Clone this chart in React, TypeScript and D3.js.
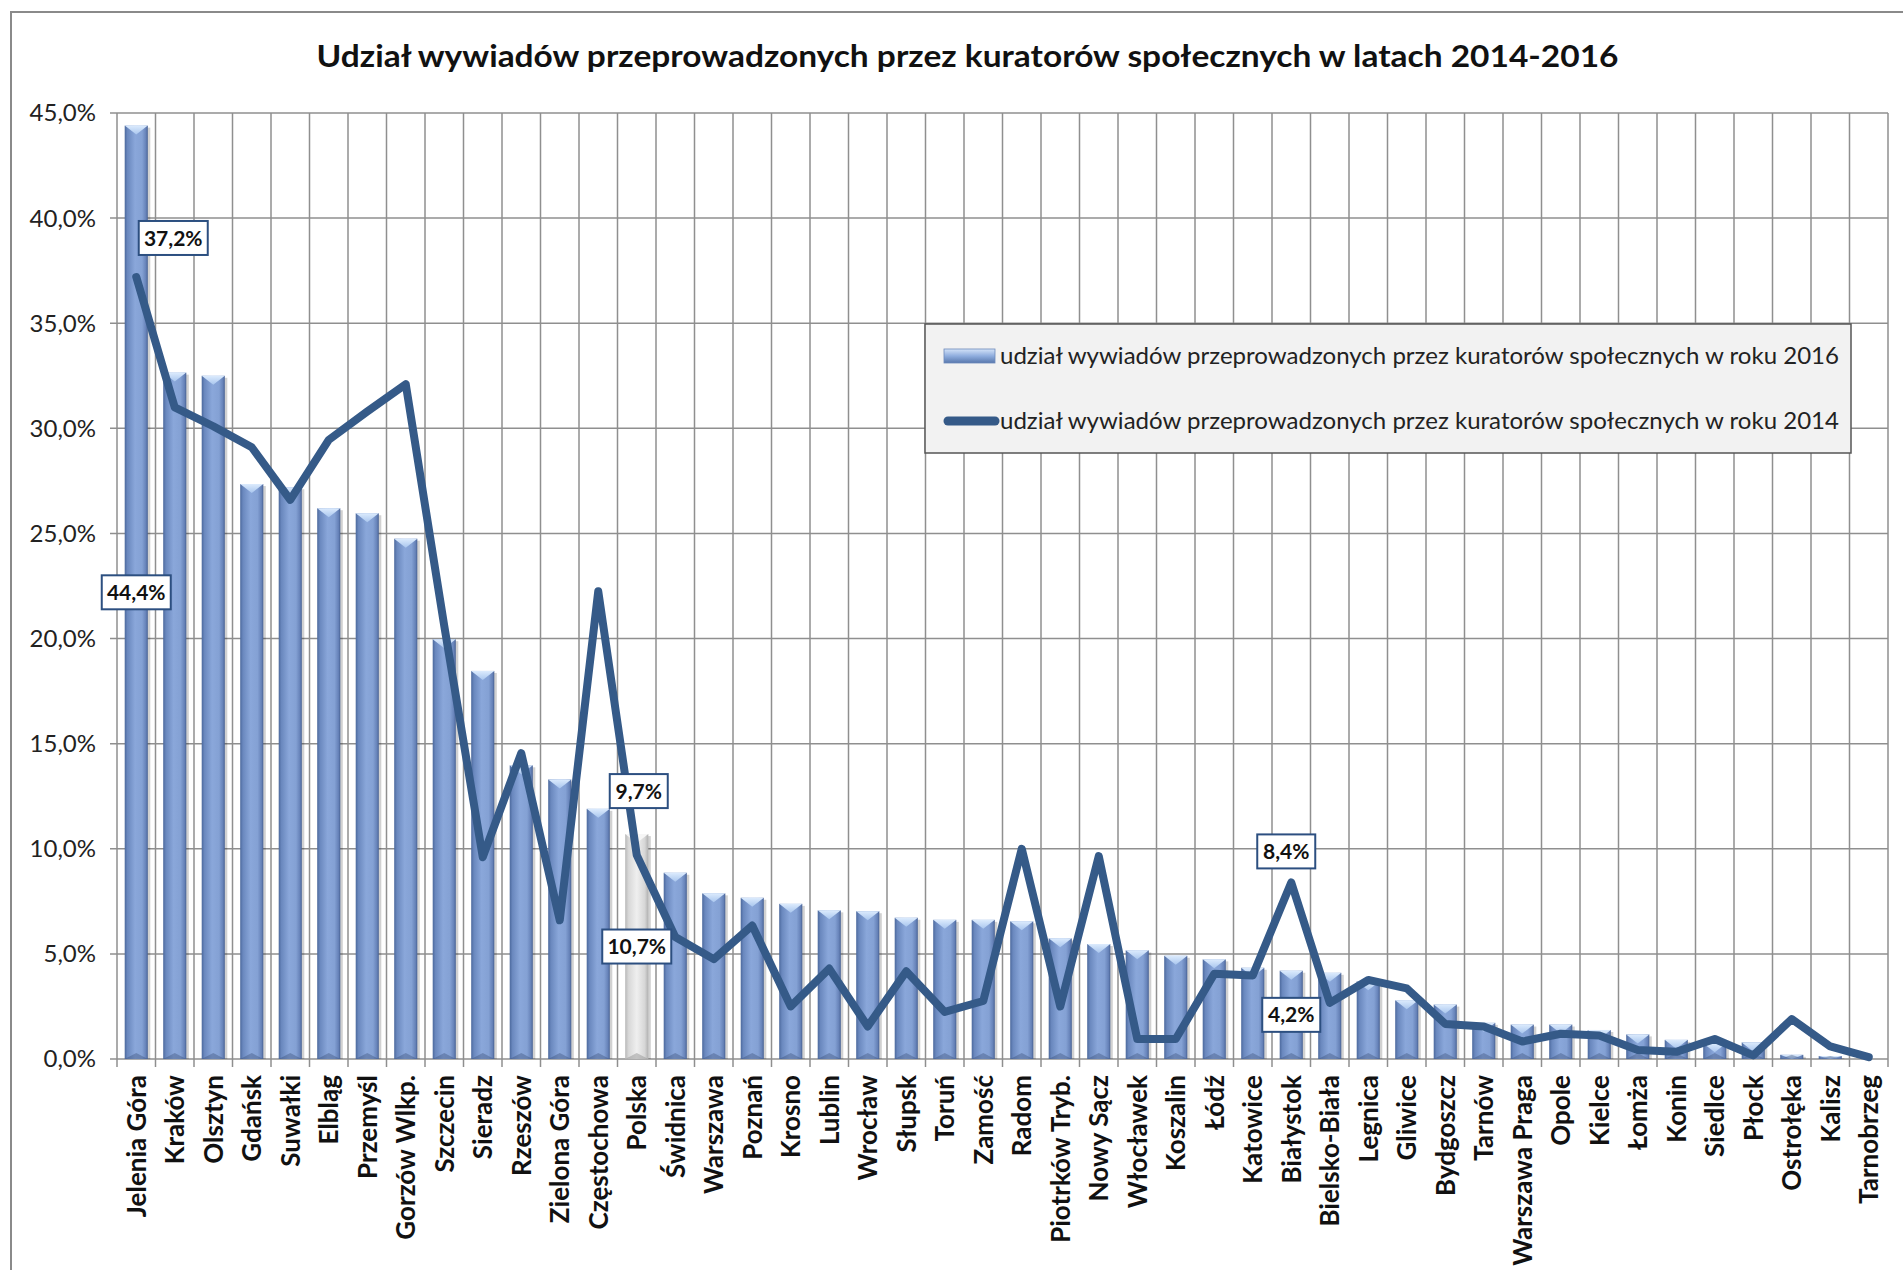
import React, { useEffect } from 'react';
import * as d3 from 'd3';

// chart data
const categories = [
  'Jelenia Góra', 'Kraków', 'Olsztyn', 'Gdańsk', 'Suwałki', 'Elbląg', 'Przemyśl', 'Gorzów Wlkp.',
  'Szczecin', 'Sieradz', 'Rzeszów', 'Zielona Góra', 'Częstochowa', 'Polska', 'Świdnica', 'Warszawa',
  'Poznań', 'Krosno', 'Lublin', 'Wrocław', 'Słupsk', 'Toruń', 'Zamość', 'Radom', 'Piotrków Tryb.',
  'Nowy Sącz', 'Włocławek', 'Koszalin', 'Łódź', 'Katowice', 'Białystok', 'Bielsko-Biała', 'Legnica',
  'Gliwice', 'Bydgoszcz', 'Tarnów', 'Warszawa Praga', 'Opole', 'Kielce', 'Łomża', 'Konin', 'Siedlce',
  'Płock', 'Ostrołęka', 'Kalisz', 'Tarnobrzeg',
];

const share2016 = [
  44.4, 32.65, 32.5, 27.35, 27.2, 26.2, 25.96, 24.75, 19.97, 18.46, 13.97, 13.3, 11.9, 10.7, 8.86, 7.88,
  7.67, 7.38, 7.07, 7.03, 6.72, 6.62, 6.62, 6.55, 5.74, 5.47, 5.17, 4.91, 4.74, 4.34, 4.2, 4.1, 3.7,
  2.79, 2.59, 1.72, 1.64, 1.64, 1.38, 1.17, 0.91, 0.75, 0.79, 0.2, 0.14, 0,
];

const share2014 = [
  37.2, 31.0, 30.1, 29.1, 26.6, 29.45, 30.8, 32.1, 20.6, 9.6, 14.55, 6.6, 22.25, 9.7, 5.8, 4.75,
  6.35, 2.5, 4.3, 1.55, 4.17, 2.24, 2.76, 10.0, 2.5, 9.65, 0.95, 0.95, 4.05, 3.97, 8.4, 2.67, 3.76,
  3.36, 1.67, 1.55, 0.83, 1.2, 1.12, 0.43, 0.34, 0.95, 0.17, 1.9, 0.6, 0.09,
];

const yTicks = [0, 5, 10, 15, 20, 25, 30, 35, 40, 45];
const labelledCategories = ['Jelenia Góra', 'Polska', 'Białystok'];
const highlightCategory = 'Polska';

const title = 'Udział wywiadów przeprowadzonych przez kuratorów społecznych w latach 2014-2016';
const legendBars = 'udział wywiadów przeprowadzonych przez kuratorów społecznych w roku 2016';
const legendLine = 'udział wywiadów przeprowadzonych przez kuratorów społecznych w roku 2014';

// layout
const W = 1903;
const H = 1270;
const PLOT = { left: 117, right: 1888, top: 113, bottom: 1059 };
// manual offsets of the line value labels (relative to the point)
const LINE_LABEL_OFFSET: Record<string, [number, number]> = {
  'Jelenia Góra': [37, -39],
  'Polska': [2, -64],
  'Białystok': [-5, -31],
};
const LINE_COLOR = '#355A88';
const GRID = '#8f8f8f';
const FONT = "Lato, 'Liberation Sans', Arial, sans-serif";

const fmt = (v: number) => v.toFixed(1).replace('.', ',') + '%';

function LabelBox({ cx, cy, text }: { cx: number; cy: number; text: string }) {
  const w = text.length * 11 + 14;
  const h = 34;
  return (
    <g>
      <rect x={cx - w / 2} y={cy - h / 2} width={w} height={h} fill="#fff" stroke="#2c4f80" strokeWidth={2} />
      <text x={cx} y={cy} dy="0.36em" textAnchor="middle" fontFamily={FONT} fontWeight="bold" fontSize={21} fill="#111">
        {text}
      </text>
    </g>
  );
}

export default function App() {
  useEffect(() => {
    document.body.style.margin = '0';
    document.body.style.overflow = 'hidden';
  }, []);

  const x = d3.scaleBand<string>().domain(categories).range([PLOT.left, PLOT.right]).padding(0);
  const y = d3.scaleLinear().domain([0, 45]).range([PLOT.bottom, PLOT.top]);
  const band = x.bandwidth();
  const bw = band * 0.6;
  const cx = (c: string) => (x(c) as number) + band / 2;

  const line = d3.line<number>()
    .x((_, i) => cx(categories[i]))
    .y(d => y(d));

  const boundaries = categories.map(c => x(c) as number).concat([PLOT.right]);

  return (
    <svg width={W} height={H} viewBox={`0 0 ${W} ${H}`} style={{ display: 'block', background: '#fff' }}>
      <defs>
        <linearGradient id="barGrad" x1="0" x2="1" y1="0" y2="0">
          <stop offset="0" stopColor="#4c699d" />
          <stop offset="0.12" stopColor="#6a88be" />
          <stop offset="0.45" stopColor="#8aa7da" />
          <stop offset="0.75" stopColor="#84a1d4" />
          <stop offset="0.92" stopColor="#6682b8" />
          <stop offset="1" stopColor="#476193" />
        </linearGradient>
        <linearGradient id="greyGrad" x1="0" x2="1" y1="0" y2="0">
          <stop offset="0" stopColor="#b8b8b8" />
          <stop offset="0.15" stopColor="#d8d8d8" />
          <stop offset="0.5" stopColor="#efefef" />
          <stop offset="0.85" stopColor="#d6d6d6" />
          <stop offset="1" stopColor="#b0b0b0" />
        </linearGradient>
        <linearGradient id="bevelGrad" x1="0" x2="0" y1="0" y2="1">
          <stop offset="0" stopColor="#dcebfd" />
          <stop offset="1" stopColor="#a9c6ee" />
        </linearGradient>
        <linearGradient id="legendSwatch" x1="0" x2="0" y1="0" y2="1">
          <stop offset="0" stopColor="#d4e3f8" />
          <stop offset="0.5" stopColor="#8fadde" />
          <stop offset="1" stopColor="#5878ad" />
        </linearGradient>
      </defs>

      {/* outer chart border */}
      <rect x={11} y={12} width={W} height={H} fill="#fff" stroke="#8a8a8a" strokeWidth={2} />

      <text x={(PLOT.left + PLOT.right) / 2 - 35} y={67} textAnchor="middle" fontFamily={FONT} fontWeight="bold"
        fontSize={30} fill="#111" textLength={1302} lengthAdjust="spacingAndGlyphs">
        {title}
      </text>

      {/* grid */}
      <g stroke={GRID} strokeWidth={1.5}>
        {yTicks.map(t => (
          <line key={'h' + t} x1={PLOT.left - 7} x2={PLOT.right} y1={y(t)} y2={y(t)} />
        ))}
        {boundaries.map((b, i) => (
          <line key={'v' + i} x1={b} x2={b} y1={PLOT.top} y2={PLOT.bottom + 8} />
        ))}
      </g>

      {/* y axis labels */}
      <g fontFamily={FONT} fontSize={24} fill="#222" textAnchor="end">
        {yTicks.map(t => (
          <text key={t} x={96} y={y(t)} dy="0.35em">{fmt(t)}</text>
        ))}
      </g>

      {/* bars 2016 */}
      <g>
        {categories.map((c, i) => {
          const v = share2016[i];
          if (v <= 0) return null;
          const bx = cx(c) - bw / 2;
          const top = y(v);
          const h = PLOT.bottom - top;
          const bev = Math.min(9, h);
          const grey = c === highlightCategory;
          return (
            <g key={c}>
              <rect x={bx + 2.5} y={top + 2} width={bw} height={Math.max(0, h - 2)} fill="rgba(0,0,0,0.18)" />
              <rect x={bx} y={top} width={bw} height={h} fill={grey ? 'url(#greyGrad)' : 'url(#barGrad)'} />
              <polygon
                points={`${bx},${top} ${bx + bw},${top} ${bx + bw / 2},${top + bev}`}
                fill={grey ? '#f6f6f6' : 'url(#bevelGrad)'}
              />
              <polygon
                points={`${bx},${PLOT.bottom} ${bx + bw},${PLOT.bottom} ${bx + bw / 2},${PLOT.bottom - Math.min(6, h)}`}
                fill={grey ? 'rgba(150,150,150,0.5)' : 'rgba(50,70,110,0.35)'}
              />
            </g>
          );
        })}
      </g>

      {/* line 2014 */}
      <path d={line(share2014) as string} fill="none" stroke={LINE_COLOR} strokeWidth={8}
        strokeLinejoin="round" strokeLinecap="round" />

      {/* x axis labels */}
      <g fontFamily={FONT} fontSize={26} fontWeight="bold" fill="#111" textAnchor="end">
        {categories.map(c => (
          <text key={c} transform={`translate(${cx(c)},${PLOT.bottom + 16}) rotate(-90)`} dy="0.36em">{c}</text>
        ))}
      </g>

      {/* value labels */}
      {labelledCategories.map(c => {
        const i = categories.indexOf(c);
        const [dx, dy] = LINE_LABEL_OFFSET[c];
        return (
          <g key={c}>
            <LabelBox cx={cx(c)} cy={y(share2016[i] / 2)} text={fmt(share2016[i])} />
            <LabelBox cx={cx(c) + dx} cy={y(share2014[i]) + dy} text={fmt(share2014[i])} />
          </g>
        );
      })}

      {/* legend */}
      <g>
        <rect x={925} y={324} width={926} height={129} fill="#f2f2f2" stroke="#555" strokeWidth={1.5} />
        <rect x={944} y={349} width={51} height={14} fill="url(#legendSwatch)" stroke="#6d89bb" strokeWidth={0.8} />
        <line x1={948} x2={995} y1={421} y2={421} stroke={LINE_COLOR} strokeWidth={9} strokeLinecap="round" />
        <g fontFamily={FONT} fontSize={23} fill="#222">
          <text x={1000} y={356} dy="0.35em" textLength={839} lengthAdjust="spacingAndGlyphs">{legendBars}</text>
          <text x={1000} y={421} dy="0.35em" textLength={839} lengthAdjust="spacingAndGlyphs">{legendLine}</text>
        </g>
      </g>
    </svg>
  );
}
